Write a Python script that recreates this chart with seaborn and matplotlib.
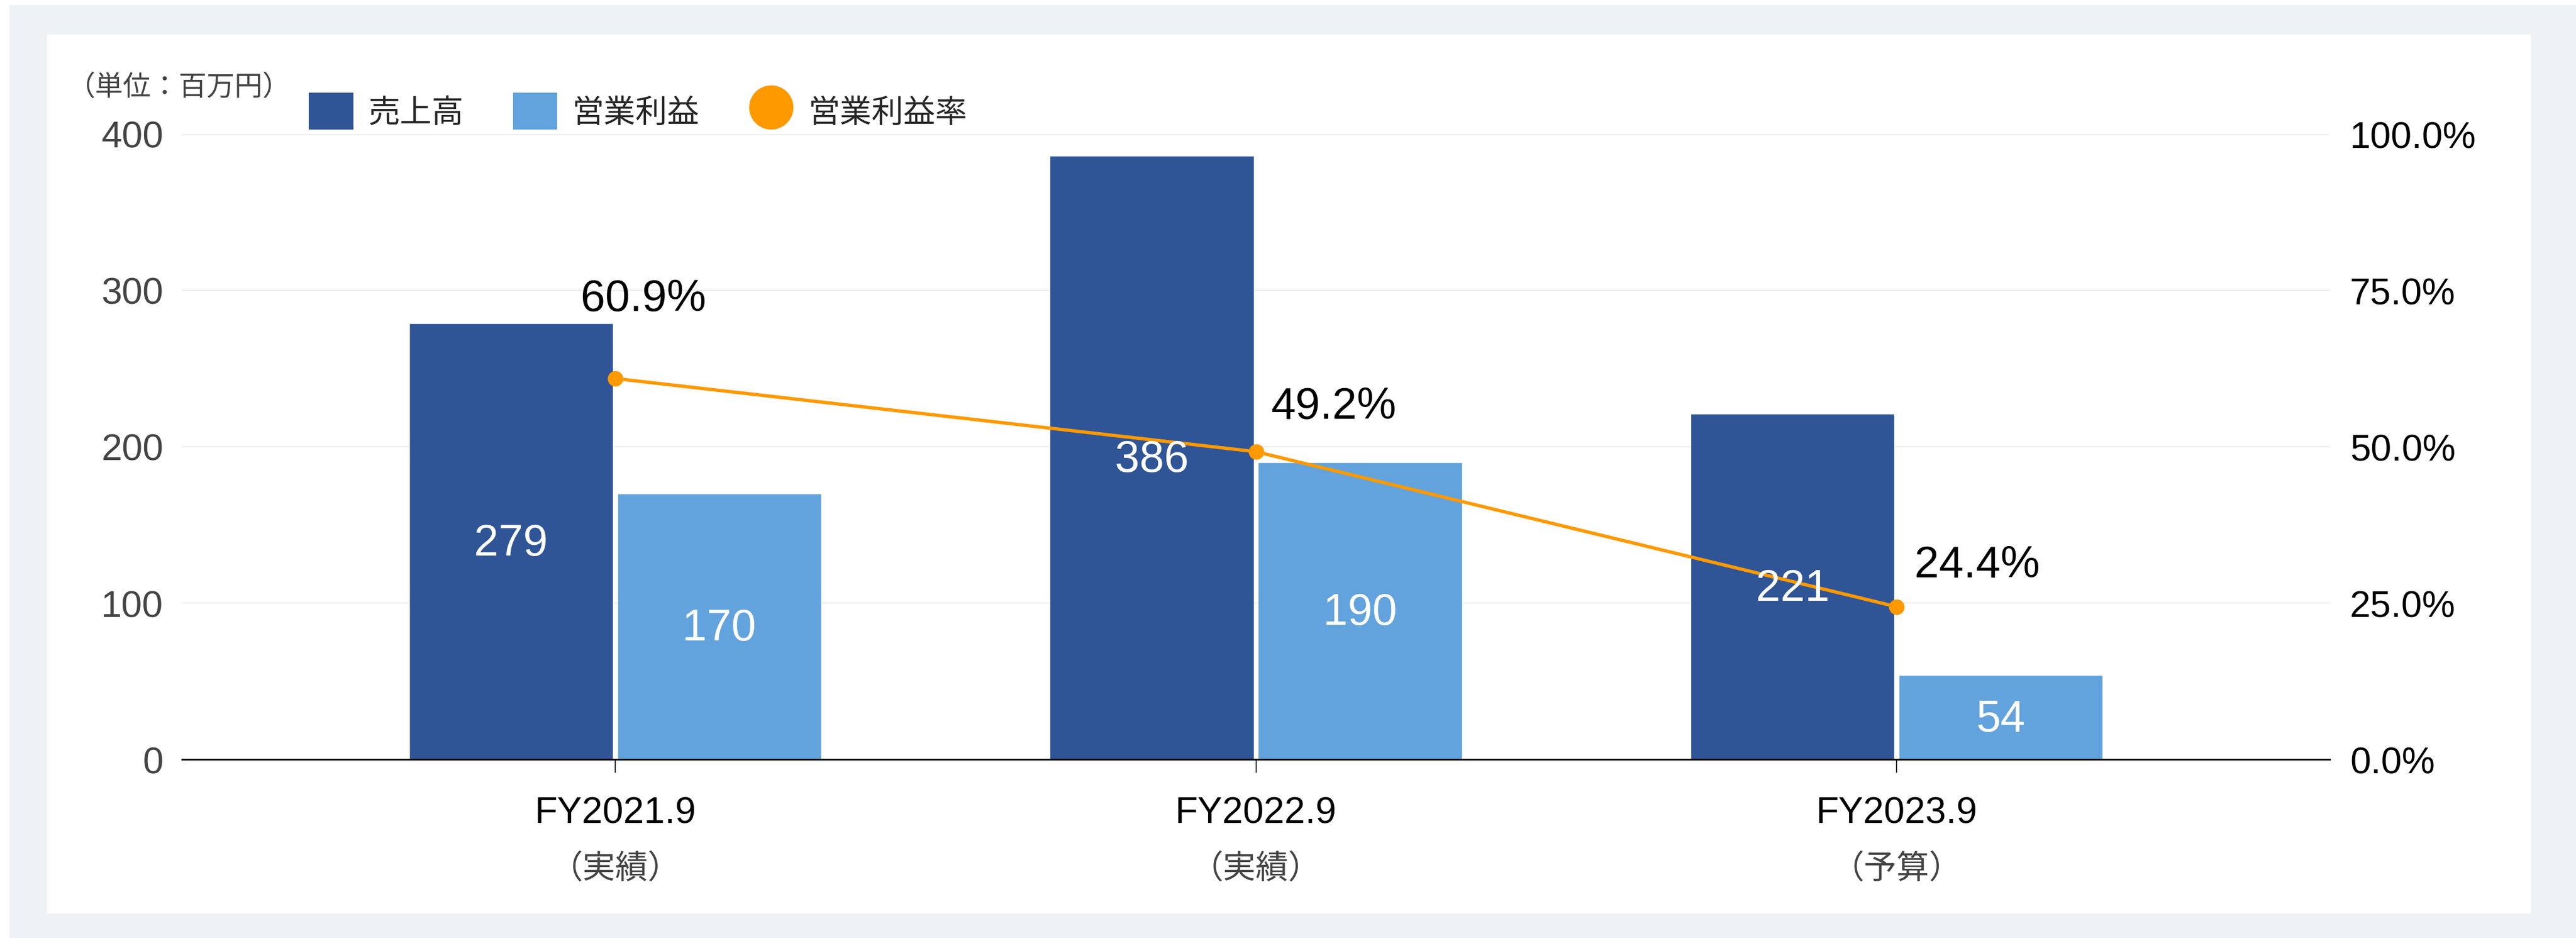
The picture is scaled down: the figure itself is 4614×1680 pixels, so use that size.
import numpy as np
import pandas as pd
import matplotlib
matplotlib.use("Agg")
import matplotlib.pyplot as plt
import seaborn as sns
from matplotlib.patches import Patch, Rectangle
from matplotlib.lines import Line2D
from matplotlib.transforms import blended_transform_factory

# ---------------- data ----------------
categories = ["FY2021.9", "FY2022.9", "FY2023.9"]
category_notes = ["（実績）", "（実績）", "（予算）"]
series_names = ["売上高", "営業利益"]
sales = [279, 386, 221]
operating_profit = [170, 190, 54]
margin_name = "営業利益率"
operating_margin = [60.9, 49.2, 24.4]
left_ticks = [0, 100, 200, 300, 400]
right_ticks = [0, 25, 50, 75, 100]
unit_label = "（単位：百万円）"

# ---------------- style ----------------
DARK = "#2F5597"
LIGHT = "#62A3DD"
ORANGE = "#FF9900"
FRAME = "#EEF2F5"
W, H, DPI = 4614, 1681, 100
PCT_LABEL_OFFSETS = [(-62, 142), (27, 80), (32, 75)]  # pixels
CJK = ["Noto Sans CJK JP", "DejaVu Sans"]

sns.set_theme(style="white")
plt.rcParams["font.family"] = ["Liberation Sans", "Noto Sans CJK JP", "DejaVu Sans"]

fig = plt.figure(figsize=(W / DPI, H / DPI), dpi=DPI)
fig.patch.set_facecolor("white")
fig.add_artist(Rectangle((17 / W, 0), 1 - 17 / W, 1 - 10 / H, transform=fig.transFigure,
                         facecolor=FRAME, edgecolor="none", zorder=-10))
fig.add_artist(Rectangle((84 / W, 1 - 1637 / H), (4533 - 84) / W, (1637 - 63) / H,
                         transform=fig.transFigure, facecolor="white", edgecolor="none", zorder=-9))

ax = fig.add_axes([326 / W, 1 - 1361 / H, (4173 - 326) / W, (1361 - 241) / H])
ax.set_facecolor("none")

df = pd.DataFrame({
    "category": categories * len(series_names),
    "series": [s for s in series_names for _ in categories],
    "value": sales + operating_profit,
})
sns.barplot(data=df, x="category", y="value", hue="series", hue_order=series_names,
            palette=[DARK, LIGHT], width=0.65, gap=0.02, saturation=1,
            errorbar=None, legend=False, ax=ax)

ax.set_ylim(0, 400)
ax.set_yticks(left_ticks)
ax.set_xticks(range(len(categories)))
ax.set_xticklabels(categories)
ax.grid(axis="y", color="#EBEBEB", lw=1.5)
ax.grid(axis="x", visible=False)
ax.set_axisbelow(True)
for s in ["left", "right", "top"]:
    ax.spines[s].set_visible(False)
ax.spines["bottom"].set_color("black")
ax.spines["bottom"].set_linewidth(2.2)
ax.tick_params(axis="y", length=0, pad=24, labelsize=48, labelcolor="#444444")
ax.tick_params(axis="x", length=17, width=1.2, color="black", pad=30, labelsize=48,
               labelcolor="black", bottom=True)
ax.set_xlabel("")
ax.set_ylabel("")

ax2 = ax.twinx()
sns.lineplot(x=np.arange(len(categories)), y=operating_margin, ax=ax2, color=ORANGE,
             lw=4.3, marker="o", markersize=20, markeredgewidth=0, legend=False)
ax2.set_ylim(0, 100)
ax2.set_yticks(right_ticks)
ax2.set_yticklabels([f"{v:.1f}%" for v in right_ticks])
ax2.tick_params(axis="y", length=0, pad=26, labelsize=48, labelcolor="black")
for s in ax2.spines.values():
    s.set_visible(False)
ax2.grid(False)
ax2.set_ylabel("")
ax2.set_xlabel("")
ax.set_xlim(-0.676, 2.676)

# bar value labels (drawn on the twin axes so they sit above the line)
for container, values in zip(ax.containers, [sales, operating_profit]):
    for bar, v in zip(container, values):
        ax2.annotate(f"{v}", xy=(bar.get_x() + bar.get_width() / 2, bar.get_height() / 2),
                     xycoords=ax.transData, xytext=(0, -4), textcoords="offset pixels",
                     ha="center", va="center", color="white", fontsize=57, zorder=5)

# margin labels
for i, (m, off) in enumerate(zip(operating_margin, PCT_LABEL_OFFSETS)):
    ax2.annotate(f"{m:.1f}%", xy=(i, m), xytext=off, textcoords="offset pixels",
                 ha="left", va="center", fontsize=57, color="black", zorder=6)

# second line of category labels
trans = blended_transform_factory(ax.transData, fig.transFigure)
for i, note in enumerate(category_notes):
    ax.text(i, 1 - 1557 / H, note, transform=trans, ha="center", va="center",
            fontsize=42, color="#444444", family=CJK, clip_on=False)

# legend
handles = [Patch(facecolor=DARK, edgecolor="none"),
           Patch(facecolor=LIGHT, edgecolor="none"),
           Line2D([], [], ls="none", marker="o", ms=57, color=ORANGE, markeredgewidth=0)]
fig.legend(handles, series_names + [margin_name], loc="center left",
           bbox_to_anchor=(553 / W, 1 - 200 / H), ncol=3, frameon=False,
           prop={"family": CJK, "size": 41}, handlelength=1.4, handleheight=1.4,
           handletextpad=0.47, columnspacing=1.55, borderpad=0, borderaxespad=0)

fig.text(120 / W, 1 - 157 / H, unit_label, ha="left", va="center", fontsize=36,
         color="#444444", family=CJK)

fig.savefig("out.png", dpi=DPI)
